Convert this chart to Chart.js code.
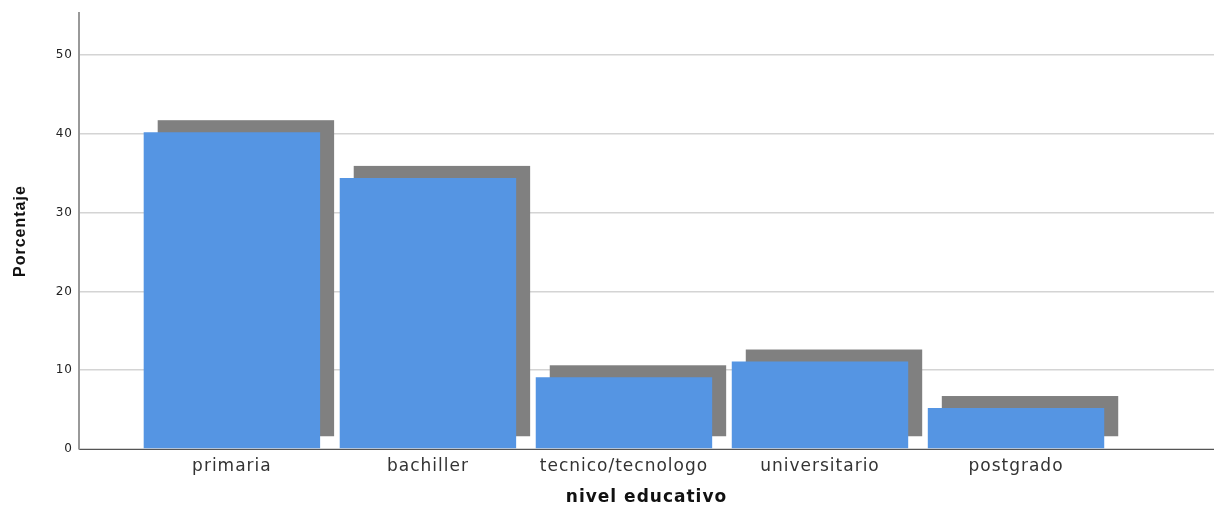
<!DOCTYPE html>
<html>
<head>
<meta charset="utf-8">
<script src="https://cdn.jsdelivr.net/npm/chart.js@4.4.0/dist/chart.umd.min.js"></script>
<style>
  html, body { margin: 0; padding: 0; background: #fff; }
  #wrap { width: 1214px; height: 508px; position: relative; }
</style>
</head>
<body>
<div id="wrap"><canvas id="nivelChart"></canvas></div>
<script>
// Data
const categories = ["primaria", "bachiller", "tecnico/tecnologo", "universitario", "postgrado"];
const percentages = [40.2, 34.4, 9.1, 11.1, 5.2];
const yTicks = [0, 10, 20, 30, 40, 50];

// Drop shadow behind every bar (SPSS style), shifted up-right
const shadowPlugin = {
  id: "barShadow",
  beforeDraw(chart) {
    // SPSS text looks a little wider than normal
    chart.ctx.letterSpacing = "1px";
  },
  beforeDatasetsDraw(chart) {
    const ctx = chart.ctx;
    const meta = chart.getDatasetMeta(0);
    ctx.save();
    ctx.fillStyle = "#808080";
    meta.data.forEach((bar) => {
      const p = bar.getProps(["x", "y", "base", "width"], true);
      ctx.fillRect(p.x - p.width / 2 + 14, p.y - 12, p.width, p.base - p.y);
    });
    ctx.restore();
  },
};

const ctx = document.getElementById("nivelChart").getContext("2d");
const nivelChart = new Chart(ctx, {
  type: "bar",
  data: {
    datasets: [
      {
        label: "Porcentaje",
        data: percentages.map((v, i) => ({ x: i, y: v })),
        backgroundColor: "#5595e3",
        borderWidth: 0,
        barPercentage: 0.9,
        categoryPercentage: 1,
      },
    ],
  },
  options: {
    responsive: true,
    maintainAspectRatio: false,
    animation: false,
    layout: { padding: { top: 12, right: 0, left: 0, bottom: 0 } },
    scales: {
      x: {
        type: "linear",
        offset: false,
        min: -0.78,
        max: 5.01,
        afterBuildTicks: (scale) => {
          scale.ticks = categories.map((c, i) => ({ value: i }));
        },
        afterFit: (scale) => {
          scale.height = 59;
        },
        ticks: {
          color: "#333333",
          font: { family: "DejaVu Sans, sans-serif", size: 17 },
          padding: 7,
          autoSkip: false,
          maxRotation: 0,
          callback: (value) => categories[value] || "",
        },
        grid: { display: false, drawTicks: false },
        border: { color: "#555555", width: 1 },
        title: {
          display: true,
          text: "nivel educativo",
          color: "#111111",
          font: { family: "DejaVu Sans, sans-serif", size: 17, weight: "bold" },
          padding: { top: 10, bottom: 0 },
        },
      },
      y: {
        min: 0,
        max: 55.3,
        afterBuildTicks: (scale) => {
          scale.ticks = yTicks.map((v) => ({ value: v }));
        },
        afterFit: (scale) => {
          scale.width = 79;
        },
        ticks: {
          color: "#222222",
          font: { family: "DejaVu Sans, sans-serif", size: 12 },
          padding: 6,
        },
        grid: { color: "#d4d4d4", lineWidth: 1.5, drawTicks: false },
        border: { color: "#999999", width: 2 },
        title: {
          display: true,
          text: "Porcentaje",
          color: "#111111",
          font: { family: "Liberation Sans Narrow, Arial Narrow, Liberation Sans, sans-serif", size: 16, weight: "bold" },
          padding: { top: 11, bottom: 0 },
        },
      },
    },
    plugins: {
      legend: { display: false },
      tooltip: { enabled: false },
    },
  },
  plugins: [shadowPlugin],
});
</script>
</body>
</html>
